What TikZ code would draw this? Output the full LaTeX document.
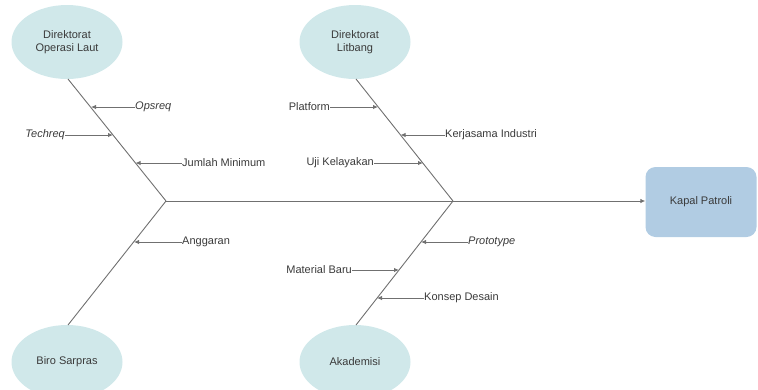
\documentclass[tikz,border=0pt]{standalone}
\usepackage{fontspec}
\setmainfont{Liberation Sans}
\usetikzlibrary{shapes.geometric,arrows.meta}
\definecolor{ellfill}{HTML}{D0E8EA}
\definecolor{boxfill}{HTML}{B1CCE3}
\definecolor{linegray}{HTML}{707070}
\definecolor{txtgray}{HTML}{3A3A3A}
\tikzset{
  x=1pt,y=-1pt,
  every node/.style={font=\fontsize{11}{13.5}\selectfont, text=txtgray},
  cause/.style={ellipse, fill=ellfill, minimum width=111pt, minimum height=74pt, inner sep=0pt, align=center},
  effect/.style={rectangle, rounded corners=10pt, fill=boxfill, minimum width=111pt, minimum height=70pt, inner sep=0pt},
  bone/.style={draw=linegray, line width=0.9pt},
  sub/.style={draw=linegray, line width=0.9pt, -{Latex[length=5pt,width=4.5pt]}},
  lbl/.style={inner sep=0pt},
}
\begin{document}
\begin{tikzpicture}
\useasboundingbox (0,0) rectangle (758,389);
\begin{scope}
\clip (0,0) rectangle (758,389);
% cause ellipses
\node[cause] (ops) at (67,42) {Direktorat\\Operasi Laut};
\node[cause] (lit) at (355,42) {Direktorat\\Litbang};
\node[cause] (biro) at (67,362) {Biro Sarpras};
\node[cause] (aka) at (355,362) {Akademisi};
\end{scope}
% effect box
\node[effect] (kapal) at (701,202) {Kapal Patroli};
% joints
\coordinate (j1) at (166,201);
\coordinate (j2) at (453,201);
\coordinate (o1) at (68,79);
\coordinate (l1) at (356,79);
\coordinate (b1) at (68,325);
\coordinate (a1) at (356,325);
% bones
\draw[bone] (o1) -- (j1);
\draw[bone] (l1) -- (j2);
\draw[bone] (b1) -- (j1);
\draw[bone] (a1) -- (j2);
\draw[sub] (j1) -- (kapal.west |- j1);
% sub causes: Direktorat Operasi Laut
\node[lbl, anchor=west] (opsreq) at (135,107) {\itshape Opsreq};
\coordinate (topsreq) at (91,107);
\draw[sub] (opsreq.west) -- (topsreq);
\node[lbl, anchor=east] (techreq) at (65,135) {\itshape Techreq};
\coordinate (ttechreq) at (113,135);
\draw[sub] (techreq.east) -- (ttechreq);
\node[lbl, anchor=west] (jumlah) at (182,163) {Jumlah Minimum};
\coordinate (tjumlah) at (135.5,163);
\draw[sub] (jumlah.west) -- (tjumlah);
% Direktorat Litbang
\node[lbl, anchor=east] (platform) at (330,107) {Platform};
\coordinate (tplatform) at (378,107);
\draw[sub] (platform.east) -- (tplatform);
\node[lbl, anchor=west] (kerja) at (445,135) {Kerjasama Industri};
\coordinate (tkerja) at (400.5,135);
\draw[sub] (kerja.west) -- (tkerja);
\node[lbl, anchor=east] (uji) at (374,163) {Uji Kelayakan};
\coordinate (tuji) at (423,163);
\draw[sub] (uji.east) -- (tuji);
% Biro Sarpras
\node[lbl, anchor=west] (angg) at (182,242) {Anggaran};
\coordinate (tangg) at (134,242);
\draw[sub] (angg.west) -- (tangg);
% Akademisi
\node[lbl, anchor=west] (proto) at (468,242) {\itshape Prototype};
\coordinate (tproto) at (421,242);
\draw[sub] (proto.west) -- (tproto);
\node[lbl, anchor=east] (mat) at (352,270) {Material Baru};
\coordinate (tmat) at (399,270);
\draw[sub] (mat.east) -- (tmat);
\node[lbl, anchor=west] (kons) at (424,298) {Konsep Desain};
\coordinate (tkons) at (377,298);
\draw[sub] (kons.west) -- (tkons);
\end{tikzpicture}
\end{document}
